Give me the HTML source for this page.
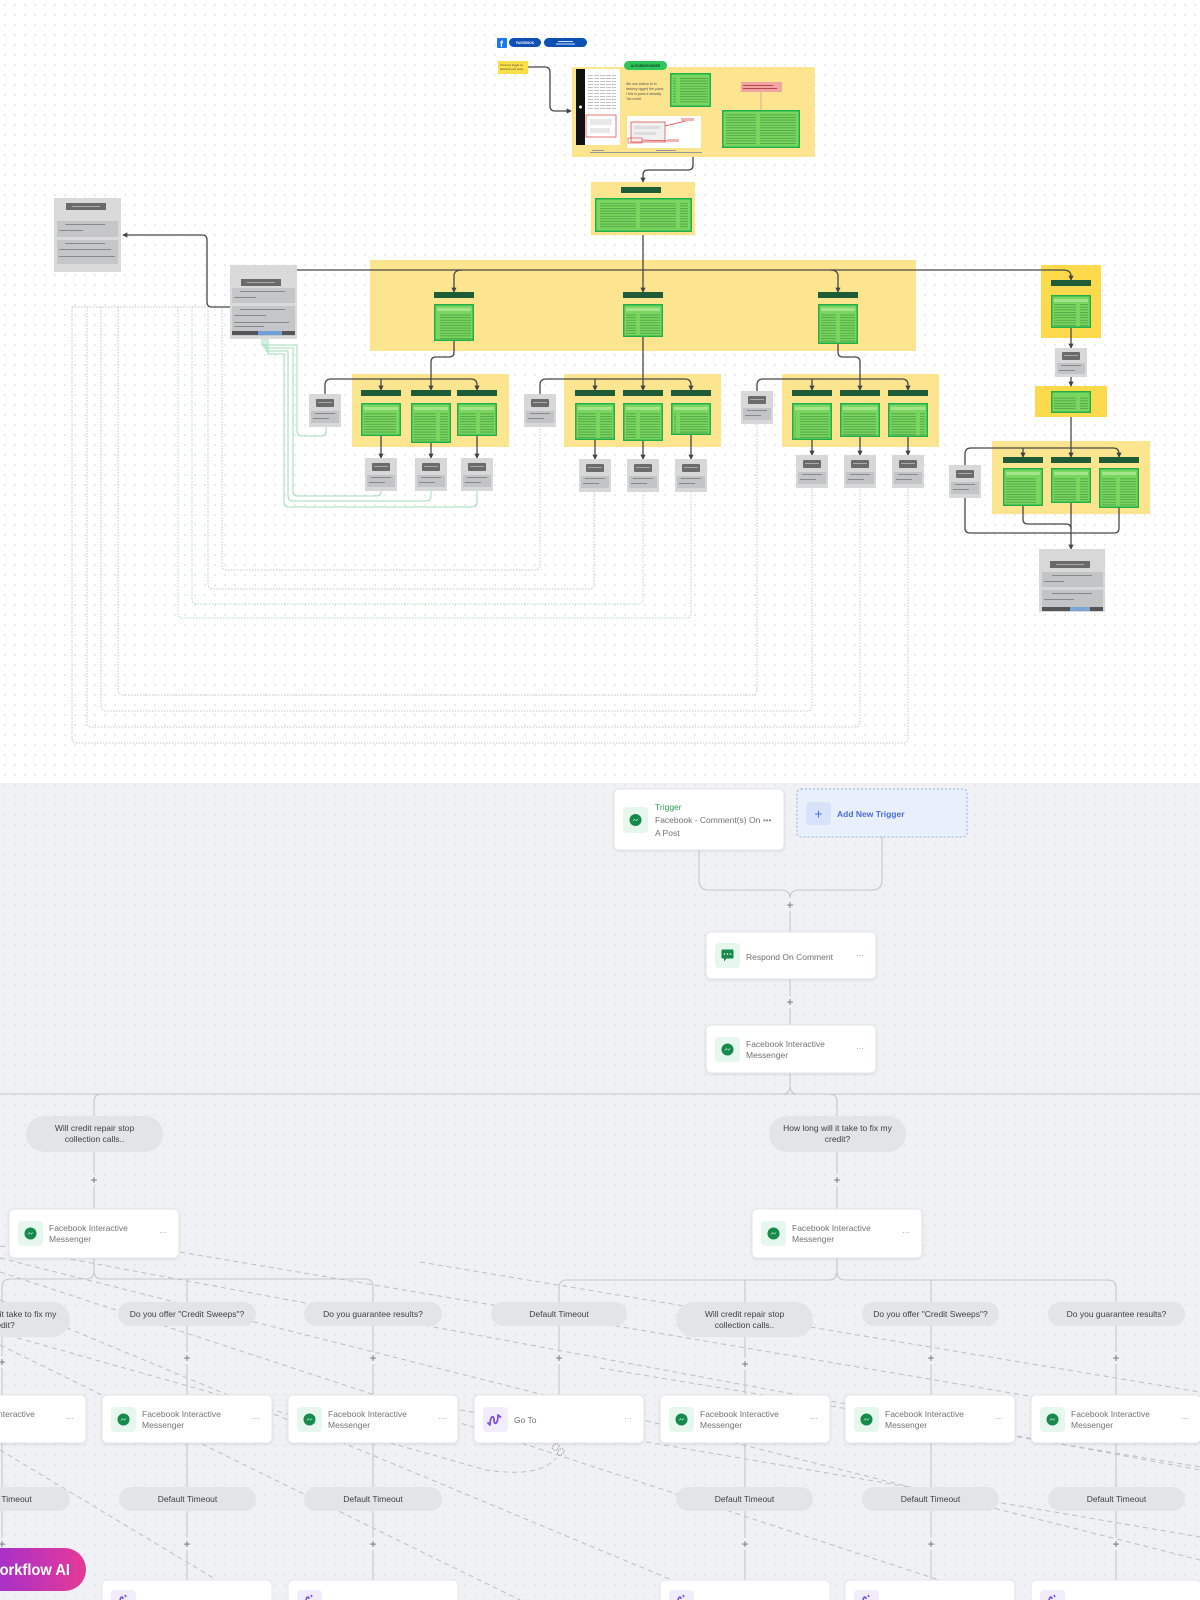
<!DOCTYPE html>
<html><head><meta charset="utf-8">
<style>
html,body{margin:0;padding:0;background:#fff;}
svg{display:block;}
.t{font-family:"Liberation Sans",Arial,sans-serif;}
</style></head>
<body>
<svg width="1200" height="1600" viewBox="0 0 1200 1600" xmlns="http://www.w3.org/2000/svg" class="t">
<defs>
<pattern id="dt" width="10" height="10" patternUnits="userSpaceOnUse"><circle cx="5" cy="5" r=".8" fill="#d0d3d6"/></pattern>
<pattern id="db" width="10" height="10" patternUnits="userSpaceOnUse"><circle cx="5" cy="5" r=".8" fill="#d7d9de"/></pattern>
<pattern id="gl" width="40" height="2.6" patternUnits="userSpaceOnUse"><rect width="36" height=".9" fill="#2a6e2e" opacity=".5"/></pattern>
<pattern id="kl" width="6" height="3" patternUnits="userSpaceOnUse"><rect width="5" height=".8" fill="#555" opacity=".45"/></pattern>
<marker id="ar" viewBox="0 0 6 6" refX="5" refY="3" markerWidth="4" markerHeight="4" orient="auto"><path d="M0,0 L6,3 L0,6z" fill="#444"/></marker>
<linearGradient id="wf" x1="0" y1="0" x2="1" y2="0"><stop offset="0" stop-color="#8a2be2"/><stop offset="1" stop-color="#e53a96"/></linearGradient>
<filter id="sh" x="-10%" y="-20%" width="120%" height="150%"><feDropShadow dx="0" dy="1" stdDeviation="1.3" flood-color="#000" flood-opacity=".09"/></filter>
</defs>

<!-- TOP CANVAS -->
<rect x="0" y="0" width="1200" height="783" fill="#ffffff"/>
<rect x="0" y="0" width="1200" height="783" fill="url(#dt)"/>

<!-- facebook header -->
<rect x="497" y="38" width="10" height="10" rx="1" fill="#1877f2"/>
<text x="500" y="47" font-size="9" font-weight="bold" fill="#fff">f</text>
<rect x="509" y="38" width="32" height="9" rx="4.5" fill="#0d4fb3"/>
<text x="525" y="44" font-size="3.2" fill="#fff" text-anchor="middle" font-weight="bold">FACEBOOK</text>
<rect x="544" y="38" width="43" height="9" rx="4.5" fill="#0d4fb3"/>
<rect x="558" y="41" width="15" height="1" fill="#cfe0ff"/><rect x="556" y="43.5" width="19" height="1" fill="#cfe0ff"/>

<!-- yellow note -->
<rect x="498" y="61" width="30" height="13" fill="#fde047"/>
<text x="500" y="66" font-size="2.6" fill="#444">Comment trigger on</text>
<text x="500" y="70" font-size="2.6" fill="#444">facebook post setup</text>

<g fill="none" stroke="#474747" stroke-width="1.3">
<path d="M528,67 H545 Q550,67 550,72 V106 Q550,111 555,111 H571" marker-end="url(#ar)"/>
<path d="M693,157 V165 Q693,170 688,170 H648 Q643,170 643,175 V182" marker-end="url(#ar)"/>
</g>

<!-- big top yellow block -->
<rect x="572" y="67" width="243" height="90" fill="#fde58f"/>
<rect x="624" y="61" width="43" height="9" rx="4.5" fill="#2fc45a"/>
<text x="645.5" y="67.2" font-size="3.2" fill="#0f3d1e" text-anchor="middle" font-weight="bold">AUTORESPONDER</text>
<rect x="576" y="69" width="9" height="76" fill="#111"/>
<circle cx="580.5" cy="107" r="1.5" fill="#fff"/>
<rect x="585" y="69" width="35" height="76" fill="#fff"/>
<rect x="588" y="75" width="28" height="36" fill="url(#kl)"/>
<rect x="586" y="115" width="30" height="22" fill="none" stroke="#e23b3b" stroke-width=".7"/>
<rect x="590" y="119" width="22" height="6" fill="#e9e9e9"/>
<rect x="590" y="128" width="20" height="5" fill="#e9e9e9"/>
<text x="626" y="85" font-size="3.5" fill="#555">We use advice AI to</text>
<text x="626" y="90" font-size="3.5" fill="#555">destroy rigged the plans</text>
<text x="626" y="95" font-size="3.5" fill="#555">I this to pass it steadily</text>
<text x="626" y="100" font-size="3.5" fill="#555">Tax credit</text>
<rect x="670" y="73" width="41" height="34" fill="#1fb04a"/>
<rect x="671.5" y="74.5" width="38" height="31" fill="#79d65e"/>
<rect x="673" y="77" width="35" height="27" fill="url(#gl)"/>
<rect x="627" y="116" width="74" height="32" fill="#fff"/>
<rect x="631" y="122" width="34" height="20" fill="#f0f0f0" stroke="#e23b3b" stroke-width=".7"/>
<rect x="634" y="126" width="26" height="3" fill="#ddd"/><rect x="634" y="132" width="22" height="3" fill="#ddd"/>
<rect x="628" y="138" width="14" height="5" fill="none" stroke="#e23b3b" stroke-width=".6"/>
<path d="M665,126 L690,120 M642,140 L670,141" stroke="#e23b3b" stroke-width=".7" fill="none"/>
<rect x="681" y="118" width="13" height="3" fill="#f3b4b4"/><rect x="667" y="139" width="12" height="3" fill="#f3b4b4"/>
<rect x="741" y="82" width="41" height="10" fill="#f2a3a3"/>
<rect x="743" y="85" width="30" height=".8" fill="#a33"/><rect x="743" y="88" width="34" height=".8" fill="#a33"/>
<path d="M761,92 V110" stroke="#c9a88c" stroke-width=".8"/>
<rect x="722" y="110" width="78" height="38" fill="#1fb04a"/>
<rect x="723.5" y="111.5" width="75" height="35" fill="#79d65e"/>
<rect x="726" y="114" width="70" height="31" fill="url(#gl)"/>
<rect x="592" y="150" width="12" height="1" fill="#999"/><rect x="590" y="152" width="30" height="1" fill="#999"/>
<rect x="656" y="150" width="20" height="1" fill="#999"/><rect x="618" y="152" width="84" height="1" fill="#999"/>

<!-- second block -->
<rect x="591" y="182" width="104" height="53" fill="#fde58f"/>
<rect x="621" y="187" width="40" height="6" fill="#1d5c36"/>
<rect x="595" y="198" width="97" height="34" fill="#1fb04a"/>
<rect x="596.5" y="199.5" width="94" height="31" fill="#79d65e"/>
<rect x="599" y="203" width="89" height="26" fill="url(#gl)"/>

<!-- left gray boxes -->
<rect x="54" y="198" width="67" height="74" fill="#dadadb"/>
<rect x="66" y="203" width="40" height="7" fill="#6a6a6a"/><rect x="72" y="206" width="28" height="1" fill="#aaa"/>
<rect x="57" y="221" width="61" height="16" fill="#c5c6ca"/>
<rect x="65" y="224" width="40" height="1" fill="#888"/><rect x="59" y="230" width="24" height="1" fill="#888"/>
<rect x="57" y="240" width="61" height="24" fill="#c5c6ca"/>
<rect x="65" y="243" width="40" height="1" fill="#888"/><rect x="59" y="249" width="52" height="1" fill="#888"/><rect x="59" y="256" width="56" height="1" fill="#888"/>

<rect x="230" y="265" width="67" height="74" fill="#dadadb"/>
<rect x="241" y="279" width="40" height="7" fill="#6a6a6a"/><rect x="247" y="282" width="28" height="1" fill="#aaa"/>
<rect x="232" y="288" width="63" height="15" fill="#c5c6ca"/>
<rect x="240" y="291" width="45" height="1" fill="#888"/><rect x="234" y="297" width="22" height="1" fill="#888"/>
<rect x="232" y="306" width="63" height="30" fill="#c5c6ca"/>
<rect x="240" y="309" width="45" height="1" fill="#888"/><rect x="234" y="315" width="32" height="1" fill="#888"/><rect x="234" y="322" width="55" height="1" fill="#888"/><rect x="234" y="326" width="30" height="1" fill="#888"/>
<rect x="232" y="331" width="63" height="4" fill="#555"/><rect x="258" y="331" width="24" height="4" fill="#6f9fd8"/>

<!-- dotted loops -->
<g fill="none" stroke="#c6cac8" stroke-width="1" stroke-dasharray="1.6 1.4">
<path d="M72,307 H207"/>
<path d="M222,307 V565 Q222,570 227,570 H535 Q540,570 540,565 V427"/>
<path d="M208,307 V584 Q208,589 213,589 H589 Q594,589 594,584 V492"/>
<path d="M192,307 V599 Q192,604 197,604 H638 Q643,604 643,599 V492" stroke="#b7dcc6"/>
<path d="M178,307 V613 Q178,618 183,618 H686 Q691,618 691,613 V492" stroke="#b7dcc6"/>
<path d="M118,307 V690 Q118,695 123,695 H752 Q757,695 757,690 V424"/>
<path d="M101,307 V706 Q101,711 106,711 H807 Q812,711 812,706 V488"/>
<path d="M87,307 V722 Q87,727 92,727 H855 Q860,727 860,722 V488"/>
<path d="M72,307 V738 Q72,743 77,743 H903 Q908,743 908,738 V488"/>
</g>
<g fill="none" stroke="#9fdcb9" stroke-width="1">
<path d="M262,339 V345 H297 V431 Q297,436 302,436 H321 Q326,436 326,431 V427"/>
<path d="M264,339 V348 H293 V491 Q293,496 298,496 H376 Q381,496 381,491"/>
<path d="M266,339 V351 H288 V496 Q288,501 293,501 H426 Q431,501 431,496 V491"/>
<path d="M268,339 V354 H284 V502 Q284,507 289,507 H472 Q477,507 477,502 V491"/>
</g>

<!-- yellow blocks -->
<rect x="370" y="260" width="546" height="91" fill="#fde58f"/>
<rect x="352" y="374" width="157" height="73" fill="#fde58f"/>
<rect x="564" y="374" width="157" height="73" fill="#fde58f"/>
<rect x="782" y="374" width="157" height="73" fill="#fde58f"/>
<rect x="992" y="441" width="158" height="73" fill="#fde58f"/>
<rect x="1041" y="265" width="60" height="73" fill="#fdd94c"/>
<rect x="1035" y="386" width="72" height="31" fill="#fdd94c"/>

<!-- dark connectors -->
<g fill="none" stroke="#474747" stroke-width="1.3">
<path d="M230,307 H212 Q207,307 207,302 V240 Q207,235 202,235 H123" marker-end="url(#ar)"/>
<path d="M297,270 H1063 Q1071,270 1071,276 V280" marker-end="url(#ar)"/>
<path d="M643,235 V292" marker-end="url(#ar)"/>
<path d="M462,270 Q454,270 454,276 V292" marker-end="url(#ar)"/>
<path d="M830,270 Q838,270 838,276 V292" marker-end="url(#ar)"/>
<path d="M454,341 V352 Q454,357 449,357 H436 Q431,357 431,362 V390" marker-end="url(#ar)"/>
<path d="M325,394 V385 Q325,379 331,379 H471 Q477,379 477,385 V390" marker-end="url(#ar)"/>
<path d="M381,379 V390" marker-end="url(#ar)"/>
<path d="M643,337 V390" marker-end="url(#ar)"/>
<path d="M540,394 V385 Q540,379 546,379 H685 Q691,379 691,385 V390" marker-end="url(#ar)"/>
<path d="M595,379 V390" marker-end="url(#ar)"/>
<path d="M838,344 V352 Q838,357 843,357 H855 Q860,357 860,362 V390" marker-end="url(#ar)"/>
<path d="M757,391 V385 Q757,379 763,379 H902 Q908,379 908,385 V390" marker-end="url(#ar)"/>
<path d="M812,379 V390" marker-end="url(#ar)"/>
<path d="M381,436 V458" marker-end="url(#ar)"/><path d="M431,443 V458" marker-end="url(#ar)"/><path d="M477,436 V458" marker-end="url(#ar)"/>
<path d="M595,440 V459" marker-end="url(#ar)"/><path d="M643,441 V459" marker-end="url(#ar)"/><path d="M691,435 V459" marker-end="url(#ar)"/>
<path d="M812,440 V455" marker-end="url(#ar)"/><path d="M860,437 V455" marker-end="url(#ar)"/><path d="M908,437 V455" marker-end="url(#ar)"/>
<path d="M1071,328 V348" marker-end="url(#ar)"/>
<path d="M1071,377 V386" marker-end="url(#ar)"/>
<path d="M1071,417 V457" marker-end="url(#ar)"/>
<path d="M965,465 V454 Q965,448 971,448 H1113 Q1119,448 1119,454 V457" marker-end="url(#ar)"/>
<path d="M1023,448 V457" marker-end="url(#ar)"/>
<path d="M1023,506 V519 Q1023,524 1028,524 H1066 Q1071,524 1071,529"/>
<path d="M1119,508 V528 Q1119,533 1114,533 H1071"/>
<path d="M965,498 V528 Q965,533 970,533 H1071"/>
<path d="M1071,503 V549" marker-end="url(#ar)"/>
</g>

<!-- dark green labels -->
<g fill="#1d5c36">
<rect x="434" y="292" width="40" height="6"/><rect x="623" y="292" width="40" height="6"/><rect x="818" y="292" width="40" height="6"/>
<rect x="361" y="390" width="40" height="6"/><rect x="411" y="390" width="40" height="6"/><rect x="457" y="390" width="40" height="6"/>
<rect x="575" y="390" width="40" height="6"/><rect x="623" y="390" width="40" height="6"/><rect x="671" y="390" width="40" height="6"/>
<rect x="792" y="390" width="40" height="6"/><rect x="840" y="390" width="40" height="6"/><rect x="888" y="390" width="40" height="6"/>
<rect x="1003" y="457" width="40" height="6"/><rect x="1051" y="457" width="40" height="6"/><rect x="1099" y="457" width="40" height="6"/>
<rect x="1051" y="280" width="40" height="6"/>
</g>

<!-- green boxes -->
<g>
<rect x="434" y="304" width="40" height="37" fill="#1fb04a"/><rect x="435.5" y="305.5" width="37" height="34" fill="#79d65e"/><rect x="437" y="308" width="34" height="3" fill="#a6e48b"/><rect x="437" y="313" width="34" height="26" fill="url(#gl)"/>
<rect x="623" y="304" width="40" height="33" fill="#1fb04a"/><rect x="624.5" y="305.5" width="37" height="30" fill="#79d65e"/><rect x="626" y="308" width="34" height="3" fill="#a6e48b"/><rect x="626" y="313" width="34" height="22" fill="url(#gl)"/>
<rect x="818" y="304" width="40" height="40" fill="#1fb04a"/><rect x="819.5" y="305.5" width="37" height="37" fill="#79d65e"/><rect x="821" y="308" width="34" height="3" fill="#a6e48b"/><rect x="821" y="313" width="34" height="29" fill="url(#gl)"/>

<rect x="361" y="403" width="40" height="33" fill="#1fb04a"/><rect x="362.5" y="404.5" width="37" height="30" fill="#79d65e"/><rect x="364" y="407" width="34" height="3" fill="#a6e48b"/><rect x="364" y="412" width="34" height="22" fill="url(#gl)"/>
<rect x="411" y="403" width="40" height="40" fill="#1fb04a"/><rect x="412.5" y="404.5" width="37" height="37" fill="#79d65e"/><rect x="414" y="407" width="34" height="3" fill="#a6e48b"/><rect x="414" y="412" width="34" height="29" fill="url(#gl)"/>
<rect x="457" y="403" width="40" height="33" fill="#1fb04a"/><rect x="458.5" y="404.5" width="37" height="30" fill="#79d65e"/><rect x="460" y="407" width="34" height="3" fill="#a6e48b"/><rect x="460" y="412" width="34" height="22" fill="url(#gl)"/>

<rect x="575" y="403" width="40" height="37" fill="#1fb04a"/><rect x="576.5" y="404.5" width="37" height="34" fill="#79d65e"/><rect x="578" y="407" width="34" height="3" fill="#a6e48b"/><rect x="578" y="412" width="34" height="26" fill="url(#gl)"/>
<rect x="623" y="403" width="40" height="38" fill="#1fb04a"/><rect x="624.5" y="404.5" width="37" height="35" fill="#79d65e"/><rect x="626" y="407" width="34" height="3" fill="#a6e48b"/><rect x="626" y="412" width="34" height="27" fill="url(#gl)"/>
<rect x="671" y="403" width="40" height="32" fill="#1fb04a"/><rect x="672.5" y="404.5" width="37" height="29" fill="#79d65e"/><rect x="674" y="407" width="34" height="3" fill="#a6e48b"/><rect x="674" y="412" width="34" height="21" fill="url(#gl)"/>

<rect x="792" y="403" width="40" height="37" fill="#1fb04a"/><rect x="793.5" y="404.5" width="37" height="34" fill="#79d65e"/><rect x="795" y="407" width="34" height="3" fill="#a6e48b"/><rect x="795" y="412" width="34" height="26" fill="url(#gl)"/>
<rect x="840" y="403" width="40" height="34" fill="#1fb04a"/><rect x="841.5" y="404.5" width="37" height="31" fill="#79d65e"/><rect x="843" y="407" width="34" height="3" fill="#a6e48b"/><rect x="843" y="412" width="34" height="23" fill="url(#gl)"/>
<rect x="888" y="403" width="40" height="34" fill="#1fb04a"/><rect x="889.5" y="404.5" width="37" height="31" fill="#79d65e"/><rect x="891" y="407" width="34" height="3" fill="#a6e48b"/><rect x="891" y="412" width="34" height="23" fill="url(#gl)"/>

<rect x="1003" y="468" width="40" height="38" fill="#1fb04a"/><rect x="1004.5" y="469.5" width="37" height="35" fill="#79d65e"/><rect x="1006" y="472" width="34" height="3" fill="#a6e48b"/><rect x="1006" y="477" width="34" height="27" fill="url(#gl)"/>
<rect x="1051" y="468" width="40" height="35" fill="#1fb04a"/><rect x="1052.5" y="469.5" width="37" height="32" fill="#79d65e"/><rect x="1054" y="472" width="34" height="3" fill="#a6e48b"/><rect x="1054" y="477" width="34" height="24" fill="url(#gl)"/>
<rect x="1099" y="468" width="40" height="40" fill="#1fb04a"/><rect x="1100.5" y="469.5" width="37" height="37" fill="#79d65e"/><rect x="1102" y="472" width="34" height="3" fill="#a6e48b"/><rect x="1102" y="477" width="34" height="29" fill="url(#gl)"/>

<rect x="1051" y="295" width="40" height="33" fill="#1fb04a"/><rect x="1052.5" y="296.5" width="37" height="30" fill="#79d65e"/><rect x="1054" y="299" width="34" height="3" fill="#a6e48b"/><rect x="1054" y="304" width="34" height="22" fill="url(#gl)"/>
<rect x="1051" y="391" width="40" height="22" fill="#1fb04a"/><rect x="1052.5" y="392.5" width="37" height="19" fill="#79d65e"/><rect x="1054" y="396" width="34" height="14" fill="url(#gl)"/>
</g>

<!-- small gray boxes -->
<g>
<g transform="translate(309,394)"><rect width="32" height="33" fill="#d8d8d9"/><rect x="7" y="5" width="18" height="8" rx="1" fill="#6b6b6b"/><rect x="9" y="8" width="14" height="1" fill="#aaa"/><rect x="2" y="17" width="28" height="12" fill="#c3c4c7"/><rect x="6" y="19" width="20" height="1" fill="#888"/><rect x="4" y="24" width="16" height="1" fill="#888"/></g>
<g transform="translate(524,394)"><rect width="32" height="33" fill="#d8d8d9"/><rect x="7" y="5" width="18" height="8" rx="1" fill="#6b6b6b"/><rect x="9" y="8" width="14" height="1" fill="#aaa"/><rect x="2" y="17" width="28" height="12" fill="#c3c4c7"/><rect x="6" y="19" width="20" height="1" fill="#888"/><rect x="4" y="24" width="16" height="1" fill="#888"/></g>
<g transform="translate(741,391)"><rect width="32" height="33" fill="#d8d8d9"/><rect x="7" y="5" width="18" height="8" rx="1" fill="#6b6b6b"/><rect x="9" y="8" width="14" height="1" fill="#aaa"/><rect x="2" y="17" width="28" height="12" fill="#c3c4c7"/><rect x="6" y="19" width="20" height="1" fill="#888"/><rect x="4" y="24" width="16" height="1" fill="#888"/></g>
<g transform="translate(949,465)"><rect width="32" height="33" fill="#d8d8d9"/><rect x="7" y="5" width="18" height="8" rx="1" fill="#6b6b6b"/><rect x="9" y="8" width="14" height="1" fill="#aaa"/><rect x="2" y="17" width="28" height="12" fill="#c3c4c7"/><rect x="6" y="19" width="20" height="1" fill="#888"/><rect x="4" y="24" width="16" height="1" fill="#888"/></g>
<g transform="translate(1055,348)"><rect width="32" height="29" fill="#d8d8d9"/><rect x="7" y="4" width="18" height="8" rx="1" fill="#6b6b6b"/><rect x="9" y="7" width="14" height="1" fill="#aaa"/><rect x="2" y="15" width="28" height="11" fill="#c3c4c7"/><rect x="6" y="17" width="20" height="1" fill="#888"/><rect x="4" y="22" width="16" height="1" fill="#888"/></g>

<g transform="translate(365,458)"><rect width="32" height="33" fill="#d8d8d9"/><rect x="7" y="5" width="18" height="8" rx="1" fill="#6b6b6b"/><rect x="9" y="8" width="14" height="1" fill="#aaa"/><rect x="2" y="17" width="28" height="12" fill="#c3c4c7"/><rect x="6" y="19" width="20" height="1" fill="#888"/><rect x="4" y="24" width="16" height="1" fill="#888"/></g>
<g transform="translate(415,458)"><rect width="32" height="33" fill="#d8d8d9"/><rect x="7" y="5" width="18" height="8" rx="1" fill="#6b6b6b"/><rect x="9" y="8" width="14" height="1" fill="#aaa"/><rect x="2" y="17" width="28" height="12" fill="#c3c4c7"/><rect x="6" y="19" width="20" height="1" fill="#888"/><rect x="4" y="24" width="16" height="1" fill="#888"/></g>
<g transform="translate(461,458)"><rect width="32" height="33" fill="#d8d8d9"/><rect x="7" y="5" width="18" height="8" rx="1" fill="#6b6b6b"/><rect x="9" y="8" width="14" height="1" fill="#aaa"/><rect x="2" y="17" width="28" height="12" fill="#c3c4c7"/><rect x="6" y="19" width="20" height="1" fill="#888"/><rect x="4" y="24" width="16" height="1" fill="#888"/></g>
<g transform="translate(579,459)"><rect width="32" height="33" fill="#d8d8d9"/><rect x="7" y="5" width="18" height="8" rx="1" fill="#6b6b6b"/><rect x="9" y="8" width="14" height="1" fill="#aaa"/><rect x="2" y="17" width="28" height="12" fill="#c3c4c7"/><rect x="6" y="19" width="20" height="1" fill="#888"/><rect x="4" y="24" width="16" height="1" fill="#888"/></g>
<g transform="translate(627,459)"><rect width="32" height="33" fill="#d8d8d9"/><rect x="7" y="5" width="18" height="8" rx="1" fill="#6b6b6b"/><rect x="9" y="8" width="14" height="1" fill="#aaa"/><rect x="2" y="17" width="28" height="12" fill="#c3c4c7"/><rect x="6" y="19" width="20" height="1" fill="#888"/><rect x="4" y="24" width="16" height="1" fill="#888"/></g>
<g transform="translate(675,459)"><rect width="32" height="33" fill="#d8d8d9"/><rect x="7" y="5" width="18" height="8" rx="1" fill="#6b6b6b"/><rect x="9" y="8" width="14" height="1" fill="#aaa"/><rect x="2" y="17" width="28" height="12" fill="#c3c4c7"/><rect x="6" y="19" width="20" height="1" fill="#888"/><rect x="4" y="24" width="16" height="1" fill="#888"/></g>
<g transform="translate(796,455)"><rect width="32" height="33" fill="#d8d8d9"/><rect x="7" y="5" width="18" height="8" rx="1" fill="#6b6b6b"/><rect x="9" y="8" width="14" height="1" fill="#aaa"/><rect x="2" y="17" width="28" height="12" fill="#c3c4c7"/><rect x="6" y="19" width="20" height="1" fill="#888"/><rect x="4" y="24" width="16" height="1" fill="#888"/></g>
<g transform="translate(844,455)"><rect width="32" height="33" fill="#d8d8d9"/><rect x="7" y="5" width="18" height="8" rx="1" fill="#6b6b6b"/><rect x="9" y="8" width="14" height="1" fill="#aaa"/><rect x="2" y="17" width="28" height="12" fill="#c3c4c7"/><rect x="6" y="19" width="20" height="1" fill="#888"/><rect x="4" y="24" width="16" height="1" fill="#888"/></g>
<g transform="translate(892,455)"><rect width="32" height="33" fill="#d8d8d9"/><rect x="7" y="5" width="18" height="8" rx="1" fill="#6b6b6b"/><rect x="9" y="8" width="14" height="1" fill="#aaa"/><rect x="2" y="17" width="28" height="12" fill="#c3c4c7"/><rect x="6" y="19" width="20" height="1" fill="#888"/><rect x="4" y="24" width="16" height="1" fill="#888"/></g>
</g>

<!-- big bottom gray box -->
<rect x="1039" y="549" width="66" height="63" fill="#d8d8d9"/>
<rect x="1050" y="561" width="40" height="7" fill="#6a6a6a"/><rect x="1056" y="564" width="28" height="1" fill="#aaa"/>
<rect x="1042" y="572" width="61" height="15" fill="#c3c4c7"/><rect x="1052" y="575" width="40" height="1" fill="#888"/><rect x="1044" y="581" width="20" height="1" fill="#888"/>
<rect x="1042" y="590" width="61" height="21" fill="#c3c4c7"/><rect x="1052" y="593" width="40" height="1" fill="#888"/><rect x="1044" y="599" width="30" height="1" fill="#888"/>
<rect x="1042" y="607" width="61" height="4" fill="#555"/><rect x="1070" y="607" width="20" height="4" fill="#7aa5d8"/>

<!-- BOTTOM CANVAS -->
<rect x="0" y="783" width="1200" height="817" fill="#f0f1f4"/>
<rect x="0" y="783" width="1200" height="817" fill="url(#db)"/>

<!-- dashed go-to lines -->
<g fill="none" stroke="#bcbec3" stroke-width="1" stroke-dasharray="5 4">
<path d="M0,1246 L1200,1470"/>
<path d="M0,1258 L1200,1560"/>
<path d="M0,1272 L1000,1600"/>
<path d="M0,1300 L720,1600"/>
<path d="M0,1345 L520,1600"/>
<path d="M0,1450 L250,1600"/>
<path d="M180,1252 L1200,1425"/>
<path d="M420,1262 L1200,1392"/>
<path d="M0,1333 L486,1470 Q540,1478 556,1458"/>
<path d="M600,1368 L1200,1467"/>
<path d="M460,1410 L1200,1537"/>
</g>

<!-- solid connectors -->
<g fill="none" stroke="#c5c7cc" stroke-width="1.1">
<path d="M699,850 V880 Q699,890 709,890 H780 Q790,890 790,898"/>
<path d="M882,837 V880 Q882,890 872,890 H800 Q790,890 790,898"/>
<path d="M790,911 V932"/>
<path d="M790,979 V996"/><path d="M790,1008 V1025"/>
<path d="M790,1073 V1086 Q790,1094 782,1094 M790,1086 Q790,1094 798,1094"/>
<path d="M0,1094 H1200"/>
<path d="M102,1094 Q94,1094 94,1102 V1116"/>
<path d="M829,1094 Q837,1094 837,1102 V1116"/>
<path d="M94,1152 V1174"/><path d="M94,1186 V1209"/>
<path d="M837,1152 V1174"/><path d="M837,1186 V1209"/>
<path d="M94,1258 V1271 Q94,1279 86,1279 H10 Q2,1279 2,1287 V1302"/>
<path d="M94,1271 Q94,1279 102,1279 H365 Q373,1279 373,1287 V1302"/>
<path d="M187,1279 V1302"/>
<path d="M837,1258 V1271 Q837,1280 829,1280 H567 Q559,1280 559,1288 V1302"/>
<path d="M837,1271 Q837,1280 845,1280 H1108 Q1116,1280 1116,1288 V1302"/>
<path d="M745,1280 V1302"/><path d="M931,1280 V1302"/>
<path d="M2,1337 V1356 M2,1368 V1395"/>
<path d="M187,1326 V1352 M187,1364 V1395"/>
<path d="M373,1326 V1352 M373,1364 V1395"/>
<path d="M559,1326 V1352 M559,1364 V1395"/>
<path d="M745,1337 V1358 M745,1370 V1395"/>
<path d="M931,1326 V1352 M931,1364 V1395"/>
<path d="M1116,1326 V1352 M1116,1364 V1395"/>
<path d="M2,1443 V1487 M2,1511 V1538 M2,1550 V1580"/>
<path d="M187,1443 V1487 M187,1511 V1538 M187,1550 V1580"/>
<path d="M373,1443 V1487 M373,1511 V1538 M373,1550 V1580"/>
<path d="M745,1443 V1487 M745,1511 V1538 M745,1550 V1580"/>
<path d="M931,1443 V1487 M931,1511 V1538 M931,1550 V1580"/>
<path d="M1116,1443 V1487 M1116,1511 V1538 M1116,1550 V1580"/>
</g>

<!-- plus signs -->
<g font-size="12" fill="#6a6a6a" text-anchor="middle">
<text x="790" y="909">+</text><text x="790" y="1006">+</text>
<text x="94" y="1184">+</text><text x="837" y="1184">+</text>
<text x="2" y="1366">+</text><text x="187" y="1362">+</text><text x="373" y="1362">+</text><text x="559" y="1362">+</text><text x="745" y="1368">+</text><text x="931" y="1362">+</text><text x="1116" y="1362">+</text>
<text x="2" y="1548">+</text><text x="187" y="1548">+</text><text x="373" y="1548">+</text><text x="745" y="1548">+</text><text x="931" y="1548">+</text><text x="1116" y="1548">+</text>
</g>

<!-- Trigger card -->
<g transform="translate(614,789)" filter="url(#sh)">
<rect width="170" height="61" rx="5" fill="#fff" stroke="#e3e5e9"/>
<rect x="9" y="18" width="25" height="26" rx="4" fill="#e6f7ed"/>
<circle cx="21.5" cy="31" r="6" fill="#188a4b"/>
<path d="M18.3,32.5 L20.5,29.8 L22,31.3 L24.7,29.3 L22.5,32 L21,30.6 Z" fill="#fff"/>
<text x="41" y="21" font-size="8.5" fill="#2e9e5b">Trigger</text>
<text x="41" y="34" font-size="8.5" fill="#737373">Facebook - Comment(s) On</text>
<text x="41" y="47" font-size="8.5" fill="#737373">A Post</text>
<text x="149" y="34" font-size="8" fill="#888">•••</text>
</g>
<!-- Add new trigger -->
<rect x="797" y="789" width="170" height="48" rx="4" fill="#e8f0fc" stroke="#8fb0ea" stroke-dasharray="2 2"/>
<rect x="806" y="802" width="25" height="23" rx="4" fill="#d6e3fa"/>
<text x="818.5" y="818.5" font-size="14" fill="#4a6ee0" text-anchor="middle">+</text>
<text x="837" y="817" font-size="8.5" fill="#4b6bd8" font-weight="bold">Add New Trigger</text>

<!-- Respond On Comment -->
<g transform="translate(706,932)" filter="url(#sh)">
<rect width="170" height="47" rx="5" fill="#fff" stroke="#e3e5e9"/>
<rect x="9" y="11" width="25" height="25" rx="4" fill="#e6f7ed"/>
<rect x="15.5" y="17.5" width="12" height="9" rx="1" fill="#188a4b"/><path d="M18,26 L18,29.5 L21,26 Z" fill="#188a4b"/>
<circle cx="18.5" cy="22" r=".8" fill="#fff"/><circle cx="21.5" cy="22" r=".8" fill="#fff"/><circle cx="24.5" cy="22" r=".8" fill="#fff"/>
<text x="40" y="28" font-size="8.5" fill="#737373">Respond On Comment</text>
<text x="150" y="26" font-size="8" fill="#999">···</text>
</g>

<!-- FB cards -->
<g font-size="8.5" fill="#737373">
<g transform="translate(706,1025)" filter="url(#sh)"><rect width="170" height="48" rx="5" fill="#fff" stroke="#e3e5e9"/><rect x="9" y="12" width="25" height="25" rx="4" fill="#e6f7ed"/><circle cx="21.5" cy="24.5" r="6" fill="#188a4b"/><path d="M18.3,26 L20.5,23.3 L22,24.8 L24.7,22.8 L22.5,25.5 L21,24.1 Z" fill="#fff"/><text x="40" y="22">Facebook Interactive</text><text x="40" y="33">Messenger</text><text x="150" y="26" font-size="8" fill="#999">···</text></g>
<g transform="translate(9,1209)" filter="url(#sh)"><rect width="170" height="49" rx="5" fill="#fff" stroke="#e3e5e9"/><rect x="9" y="12" width="25" height="25" rx="4" fill="#e6f7ed"/><circle cx="21.5" cy="24.5" r="6" fill="#188a4b"/><path d="M18.3,26 L20.5,23.3 L22,24.8 L24.7,22.8 L22.5,25.5 L21,24.1 Z" fill="#fff"/><text x="40" y="22">Facebook Interactive</text><text x="40" y="33">Messenger</text><text x="150" y="26" font-size="8" fill="#999">···</text></g>
<g transform="translate(752,1209)" filter="url(#sh)"><rect width="170" height="49" rx="5" fill="#fff" stroke="#e3e5e9"/><rect x="9" y="12" width="25" height="25" rx="4" fill="#e6f7ed"/><circle cx="21.5" cy="24.5" r="6" fill="#188a4b"/><path d="M18.3,26 L20.5,23.3 L22,24.8 L24.7,22.8 L22.5,25.5 L21,24.1 Z" fill="#fff"/><text x="40" y="22">Facebook Interactive</text><text x="40" y="33">Messenger</text><text x="150" y="26" font-size="8" fill="#999">···</text></g>

<g transform="translate(-84,1395)" filter="url(#sh)"><rect width="170" height="48" rx="5" fill="#fff" stroke="#e3e5e9"/><rect x="9" y="12" width="25" height="25" rx="4" fill="#e6f7ed"/><circle cx="21.5" cy="24.5" r="6" fill="#188a4b"/><text x="40" y="22">Facebook Interactive</text><text x="40" y="33">Messenger</text><text x="150" y="26" font-size="8" fill="#999">···</text></g>
<g transform="translate(102,1395)" filter="url(#sh)"><rect width="170" height="48" rx="5" fill="#fff" stroke="#e3e5e9"/><rect x="9" y="12" width="25" height="25" rx="4" fill="#e6f7ed"/><circle cx="21.5" cy="24.5" r="6" fill="#188a4b"/><path d="M18.3,26 L20.5,23.3 L22,24.8 L24.7,22.8 L22.5,25.5 L21,24.1 Z" fill="#fff"/><text x="40" y="22">Facebook Interactive</text><text x="40" y="33">Messenger</text><text x="150" y="26" font-size="8" fill="#999">···</text></g>
<g transform="translate(288,1395)" filter="url(#sh)"><rect width="170" height="48" rx="5" fill="#fff" stroke="#e3e5e9"/><rect x="9" y="12" width="25" height="25" rx="4" fill="#e6f7ed"/><circle cx="21.5" cy="24.5" r="6" fill="#188a4b"/><path d="M18.3,26 L20.5,23.3 L22,24.8 L24.7,22.8 L22.5,25.5 L21,24.1 Z" fill="#fff"/><text x="40" y="22">Facebook Interactive</text><text x="40" y="33">Messenger</text><text x="150" y="26" font-size="8" fill="#999">···</text></g>
<g transform="translate(474,1395)" filter="url(#sh)"><rect width="170" height="48" rx="5" fill="#fff" stroke="#e3e5e9"/><rect x="9" y="12" width="25" height="25" rx="4" fill="#f2edfd"/><path d="M16,30 C16,20 20,20 20,25 C20,30 24,30 24,20 M24,20 L26.5,22 M16,30 L14,28" fill="none" stroke="#7b4fe6" stroke-width="1.8" stroke-linecap="round"/><text x="40" y="28">Go To</text><text x="150" y="26" font-size="8" fill="#999">···</text></g>
<g transform="translate(660,1395)" filter="url(#sh)"><rect width="170" height="48" rx="5" fill="#fff" stroke="#e3e5e9"/><rect x="9" y="12" width="25" height="25" rx="4" fill="#e6f7ed"/><circle cx="21.5" cy="24.5" r="6" fill="#188a4b"/><path d="M18.3,26 L20.5,23.3 L22,24.8 L24.7,22.8 L22.5,25.5 L21,24.1 Z" fill="#fff"/><text x="40" y="22">Facebook Interactive</text><text x="40" y="33">Messenger</text><text x="150" y="26" font-size="8" fill="#999">···</text></g>
<g transform="translate(845,1395)" filter="url(#sh)"><rect width="170" height="48" rx="5" fill="#fff" stroke="#e3e5e9"/><rect x="9" y="12" width="25" height="25" rx="4" fill="#e6f7ed"/><circle cx="21.5" cy="24.5" r="6" fill="#188a4b"/><path d="M18.3,26 L20.5,23.3 L22,24.8 L24.7,22.8 L22.5,25.5 L21,24.1 Z" fill="#fff"/><text x="40" y="22">Facebook Interactive</text><text x="40" y="33">Messenger</text><text x="150" y="26" font-size="8" fill="#999">···</text></g>
<g transform="translate(1031,1395)" filter="url(#sh)"><rect width="170" height="48" rx="5" fill="#fff" stroke="#e3e5e9"/><rect x="9" y="12" width="25" height="25" rx="4" fill="#e6f7ed"/><circle cx="21.5" cy="24.5" r="6" fill="#188a4b"/><path d="M18.3,26 L20.5,23.3 L22,24.8 L24.7,22.8 L22.5,25.5 L21,24.1 Z" fill="#fff"/><text x="40" y="22">Facebook Interactive</text><text x="40" y="33">Messenger</text><text x="150" y="26" font-size="8" fill="#999">···</text></g>

<!-- level 4 cards (cut off) -->
<g transform="translate(102,1580)"><rect width="170" height="48" rx="5" fill="#fff" stroke="#e3e5e9"/><rect x="9" y="10" width="25" height="25" rx="4" fill="#f2edfd"/><path d="M18,22 C18,16 21,16 21,19 M23,15 L24,17" fill="none" stroke="#7b4fe6" stroke-width="1.6"/></g>
<g transform="translate(288,1580)"><rect width="170" height="48" rx="5" fill="#fff" stroke="#e3e5e9"/><rect x="9" y="10" width="25" height="25" rx="4" fill="#f2edfd"/><path d="M18,22 C18,16 21,16 21,19 M23,15 L24,17" fill="none" stroke="#7b4fe6" stroke-width="1.6"/></g>
<g transform="translate(660,1580)"><rect width="170" height="48" rx="5" fill="#fff" stroke="#e3e5e9"/><rect x="9" y="10" width="25" height="25" rx="4" fill="#f2edfd"/><path d="M18,22 C18,16 21,16 21,19 M23,15 L24,17" fill="none" stroke="#7b4fe6" stroke-width="1.6"/></g>
<g transform="translate(845,1580)"><rect width="170" height="48" rx="5" fill="#fff" stroke="#e3e5e9"/><rect x="9" y="10" width="25" height="25" rx="4" fill="#f2edfd"/><path d="M18,22 C18,16 21,16 21,19 M23,15 L24,17" fill="none" stroke="#7b4fe6" stroke-width="1.6"/></g>
<g transform="translate(1031,1580)"><rect width="170" height="48" rx="5" fill="#fff" stroke="#e3e5e9"/><rect x="9" y="10" width="25" height="25" rx="4" fill="#f2edfd"/><path d="M18,22 C18,16 21,16 21,19 M23,15 L24,17" fill="none" stroke="#7b4fe6" stroke-width="1.6"/></g>
</g>

<!-- link icon under Go To -->
<g fill="none" stroke="#9a9ca2" stroke-width="1" stroke-dasharray="1.5 1">
<rect x="552" y="1445" width="7" height="5" rx="2" transform="rotate(-45 555 1447)"/>
<rect x="557" y="1450" width="7" height="5" rx="2" transform="rotate(-45 560 1452)"/>
</g>

<!-- pills -->
<g font-size="8.5" fill="#3f3f3f" text-anchor="middle">
<rect x="26" y="1116" width="137" height="36" rx="18" fill="#e3e4e8"/>
<text x="94.5" y="1131">Will credit repair stop</text><text x="94.5" y="1142">collection calls..</text>
<rect x="769" y="1116" width="137" height="36" rx="18" fill="#e3e4e8"/>
<text x="837.5" y="1131">How long will it take to fix my</text><text x="837.5" y="1142">credit?</text>

<rect x="-67" y="1302" width="137" height="35" rx="17.5" fill="#e3e4e8"/>
<text x="2" y="1317">How long will it take to fix my</text><text x="2" y="1328">credit?</text>
<rect x="118" y="1302" width="138" height="24" rx="12" fill="#e3e4e8"/><text x="187" y="1317">Do you offer "Credit Sweeps"?</text>
<rect x="304" y="1302" width="138" height="24" rx="12" fill="#e3e4e8"/><text x="373" y="1317">Do you guarantee results?</text>
<rect x="491" y="1302" width="136" height="24" rx="12" fill="#e3e4e8"/><text x="559" y="1317">Default Timeout</text>
<rect x="676" y="1302" width="137" height="35" rx="17.5" fill="#e3e4e8"/>
<text x="744.5" y="1317">Will credit repair stop</text><text x="744.5" y="1328">collection calls..</text>
<rect x="862" y="1302" width="137" height="24" rx="12" fill="#e3e4e8"/><text x="930.5" y="1317">Do you offer "Credit Sweeps"?</text>
<rect x="1048" y="1302" width="137" height="24" rx="12" fill="#e3e4e8"/><text x="1116.5" y="1317">Do you guarantee results?</text>

<rect x="-67" y="1487" width="137" height="24" rx="12" fill="#e3e4e8"/><text x="2" y="1502">Default Timeout</text>
<rect x="119" y="1487" width="137" height="24" rx="12" fill="#e3e4e8"/><text x="187.5" y="1502">Default Timeout</text>
<rect x="304" y="1487" width="138" height="24" rx="12" fill="#e3e4e8"/><text x="373" y="1502">Default Timeout</text>
<rect x="676" y="1487" width="137" height="24" rx="12" fill="#e3e4e8"/><text x="744.5" y="1502">Default Timeout</text>
<rect x="862" y="1487" width="137" height="24" rx="12" fill="#e3e4e8"/><text x="930.5" y="1502">Default Timeout</text>
<rect x="1048" y="1487" width="137" height="24" rx="12" fill="#e3e4e8"/><text x="1116.5" y="1502">Default Timeout</text>
</g>

<!-- Workflow AI button -->
<rect x="-44" y="1548" width="130" height="43" rx="21.5" fill="url(#wf)"/>
<text x="-14" y="1575" font-size="16" font-weight="bold" fill="#fff" textLength="84" lengthAdjust="spacingAndGlyphs">Workflow AI</text>
</svg>
</body></html>
